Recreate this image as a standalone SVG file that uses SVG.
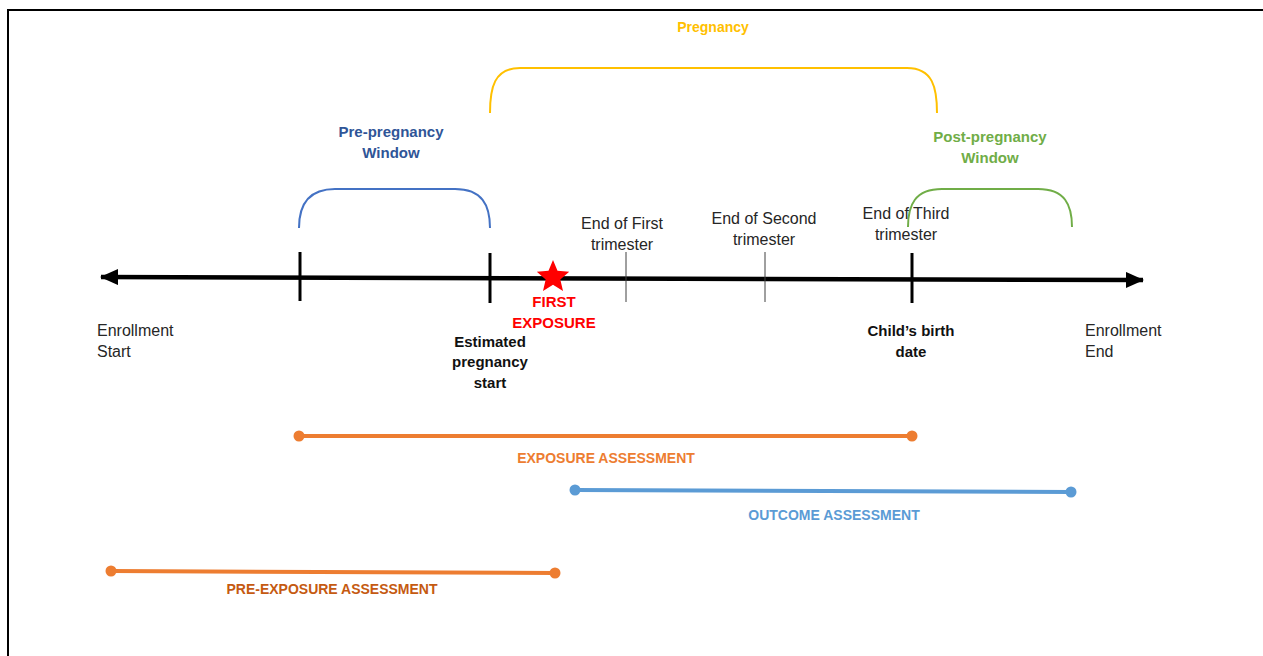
<svg xmlns="http://www.w3.org/2000/svg" width="1263" height="656" viewBox="0 0 1263 656">
  <defs>
    <style>
      text { font-family: "Liberation Sans", Arial, sans-serif; }
      .lbl { font-size: 16px; fill: #262626; }
      .b { font-weight: bold; }
      .c { text-anchor: middle; }
      .tick { stroke: #000; stroke-width: 3; }
      .thin { stroke: #404040; stroke-width: 1; }
      .brace { fill: none; stroke-width: 2; }
      .span { stroke-width: 4; stroke-linecap: round; }
    </style>
    <marker id="head" viewBox="0 0 18 16" refX="17" refY="8" markerWidth="18" markerHeight="16" markerUnits="userSpaceOnUse" orient="auto-start-reverse">
      <path d="M0,0 L18,8 L0,16 Z" fill="#000"/>
    </marker>
  </defs>

  <rect width="1263" height="656" fill="#fff"/>
  <!-- frame -->
  <path d="M8,656 V10 H1263" fill="none" stroke="#000" stroke-width="2"/>

  <!-- timeline and connectors -->
  <g id="connectors">
    <line x1="101" y1="277" x2="1143" y2="280" stroke="#000" stroke-width="4.5" marker-start="url(#head)" marker-end="url(#head)"/>
    <line class="tick" x1="300" y1="252" x2="300" y2="301"/>
    <line class="tick" x1="490" y1="253" x2="490" y2="303"/>
    <line class="tick" x1="912" y1="253" x2="912" y2="303"/>
    <line class="thin" x1="626" y1="252" x2="626" y2="302"/>
    <line class="thin" x1="765" y1="252" x2="765" y2="302"/>
  </g>

  <!-- pregnancy bracket -->
  <g id="pregnancy">
    <path class="brace" stroke="#FFC000" d="M490,113 C490,88 494,68 520,68 H907 C933,68 937,88 937,113"/>
    <text class="b c" x="713" y="32" font-size="14" fill="#FFC000">Pregnancy</text>
  </g>

  <!-- pre-pregnancy window -->
  <g id="pre-pregnancy">
    <path class="brace" stroke="#4472C4" d="M299,228 C299,205 308,189 335,189 H455 C482,189 490,205 490,228"/>
    <text class="b c" x="391" y="137" font-size="15" fill="#2F5597">Pre-pregnancy</text>
    <text class="b c" x="391" y="158" font-size="15" fill="#2F5597">Window</text>
  </g>

  <!-- post-pregnancy window -->
  <g id="post-pregnancy">
    <path class="brace" stroke="#70AD47" d="M908,227 C908,205 915,189 942,189 H1038 C1065,189 1072,205 1072,227"/>
    <text class="b c" x="990" y="142" font-size="15" fill="#70AD47">Post-pregnancy</text>
    <text class="b c" x="990" y="163" font-size="15" fill="#70AD47">Window</text>
  </g>

  <!-- trimester labels -->
  <g id="trimester-1">
    <text class="lbl c" x="622" y="229">End of First</text>
    <text class="lbl c" x="622" y="250">trimester</text>
  </g>
  <g id="trimester-2">
    <text class="lbl c" x="764" y="224">End of Second</text>
    <text class="lbl c" x="764" y="245">trimester</text>
  </g>
  <g id="trimester-3">
    <text class="lbl c" x="906" y="219">End of Third</text>
    <text class="lbl c" x="906" y="240">trimester</text>
  </g>

  <!-- first exposure -->
  <g id="first-exposure">
    <polygon fill="#FF0000" points="553,260 557.5,270.8 569.2,271.8 560.3,279.4 563,291 553,284.8 543,291 545.7,279.4 536.8,271.8 548.5,270.8"/>
    <text class="b c" x="554" y="307" font-size="15" fill="#FF0000">FIRST</text>
    <text class="b c" x="554" y="328" font-size="15" fill="#FF0000">EXPOSURE</text>
  </g>

  <!-- enrollment limits -->
  <g id="enrollment-start">
    <text class="lbl" x="97" y="336">Enrollment</text>
    <text class="lbl" x="97" y="357">Start</text>
  </g>
  <g id="enrollment-end">
    <text class="lbl" x="1085" y="336">Enrollment</text>
    <text class="lbl" x="1085" y="357">End</text>
  </g>

  <g id="pregnancy-start">
    <text class="b c" x="490" y="347" font-size="15" fill="#111">Estimated</text>
    <text class="b c" x="490" y="367" font-size="15" fill="#111">pregnancy</text>
    <text class="b c" x="490" y="388" font-size="15" fill="#111">start</text>
  </g>
  <g id="birth-date">
    <text class="b c" x="911" y="336" font-size="15" fill="#111">Child’s birth</text>
    <text class="b c" x="911" y="357" font-size="15" fill="#111">date</text>
  </g>

  <!-- assessment periods -->
  <g id="exposure-assessment">
    <line class="span" stroke="#ED7D31" x1="299" y1="436" x2="912" y2="436"/>
    <circle cx="299" cy="436" r="5.5" fill="#ED7D31"/>
    <circle cx="912" cy="436" r="5.5" fill="#ED7D31"/>
    <text class="b c" x="606" y="463" font-size="14" fill="#ED7D31">EXPOSURE ASSESSMENT</text>
  </g>
  <g id="outcome-assessment">
    <line class="span" stroke="#5B9BD5" x1="575" y1="490" x2="1071" y2="492"/>
    <circle cx="575" cy="490" r="5.5" fill="#5B9BD5"/>
    <circle cx="1071" cy="492" r="5.5" fill="#5B9BD5"/>
    <text class="b c" x="834" y="520" font-size="14" fill="#5B9BD5">OUTCOME ASSESSMENT</text>
  </g>
  <g id="pre-exposure-assessment">
    <line class="span" stroke="#ED7D31" x1="111" y1="571" x2="555" y2="573"/>
    <circle cx="111" cy="571" r="5.5" fill="#ED7D31"/>
    <circle cx="555" cy="573" r="5.5" fill="#ED7D31"/>
    <text class="b c" x="332" y="594" font-size="14" fill="#C55A11">PRE-EXPOSURE ASSESSMENT</text>
  </g>
</svg>
